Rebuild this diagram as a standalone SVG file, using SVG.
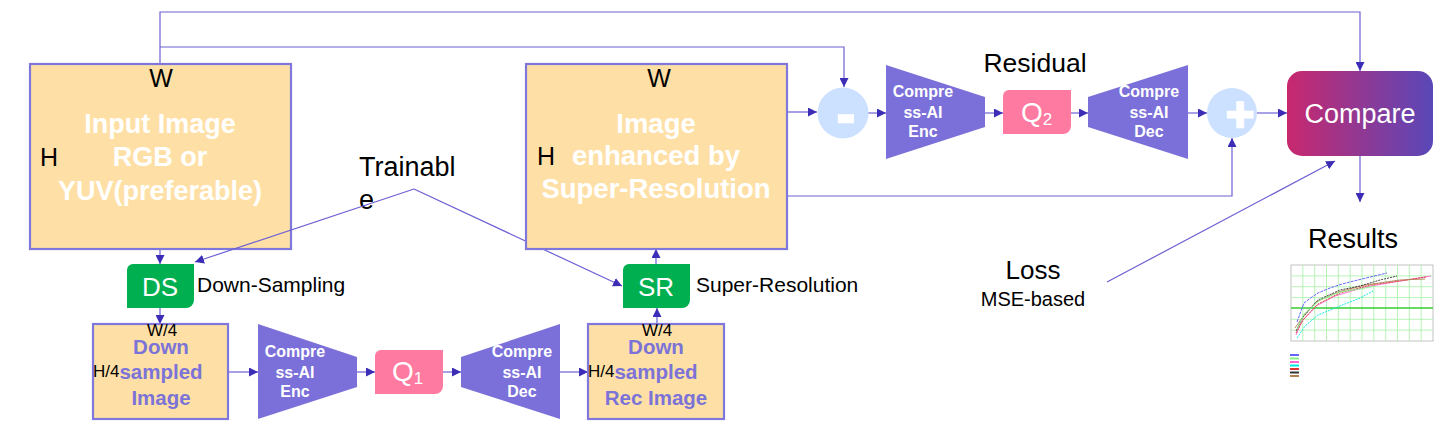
<svg xmlns="http://www.w3.org/2000/svg" width="1450" height="435" viewBox="0 0 1450 435">
<style>
.box{fill:#fee0a6;stroke:#7f77dc;stroke-width:2.2}
.trap{fill:#7b70d9}
.q{fill:#ff7aa0}
.grn{fill:#00b050}
.circ{fill:#cce0ff}
.conn{fill:none;stroke:#6c60d2;stroke-width:1.2}
.wb{font-family:"Liberation Sans",Arial,sans-serif;font-weight:bold;fill:#ffffff;text-anchor:middle}
.pb{font-family:"Liberation Sans",Arial,sans-serif;font-weight:bold;fill:#7b73d8;text-anchor:middle}
.bk{font-family:"Liberation Sans",Arial,sans-serif;fill:#000000}
.wn{font-family:"Liberation Sans",Arial,sans-serif;fill:#ffffff}
.grid{stroke:#a6f0a6;stroke-width:0.8}
</style>
<defs>
<marker id="arr" viewBox="0 0 10 10" refX="10" refY="5" markerWidth="9" markerHeight="9" markerUnits="userSpaceOnUse" orient="auto">
<path d="M0,0 L10,5 L0,10 Z" fill="#3b2db5"/>
</marker>
<linearGradient id="cmpg" x1="0" y1="0" x2="1" y2="0">
<stop offset="0" stop-color="#c8286e"/>
<stop offset="1" stop-color="#5a48b8"/>
</linearGradient>
</defs>

<g id="connectors">
<path class="conn" d="M160,64 V12 H1360 V71" marker-end="url(#arr)"/>
<path class="conn" d="M160,47 H844 V87" marker-end="url(#arr)"/>
<path class="conn" d="M160,249 V264" marker-end="url(#arr)"/>
<path class="conn" d="M160,308 V324" marker-end="url(#arr)"/>
<path class="conn" d="M228,372 H258" marker-end="url(#arr)"/>
<path class="conn" d="M357,372 H375" marker-end="url(#arr)"/>
<path class="conn" d="M443,372 H461" marker-end="url(#arr)"/>
<path class="conn" d="M560,372 H588" marker-end="url(#arr)"/>
<path class="conn" d="M657,324 V308" marker-end="url(#arr)"/>
<path class="conn" d="M656,264 V249" marker-end="url(#arr)"/>
<path class="conn" d="M787,112 H817" marker-end="url(#arr)"/>
<path class="conn" d="M868,113 H886" marker-end="url(#arr)"/>
<path class="conn" d="M985,113 H1003" marker-end="url(#arr)"/>
<path class="conn" d="M1071,113 H1088" marker-end="url(#arr)"/>
<path class="conn" d="M1188,113 H1207" marker-end="url(#arr)"/>
<path class="conn" d="M1257,113 H1287" marker-end="url(#arr)"/>
<path class="conn" d="M787,196 H1232 V138" marker-end="url(#arr)"/>
<path class="conn" d="M1107,282 L1335,161" marker-end="url(#arr)"/>
<path class="conn" d="M1360,156 V202" marker-end="url(#arr)"/>
</g>

<g id="input-image">
<rect class="box" x="30" y="64" width="261" height="185"/>
<text class="bk" x="161" y="87" font-size="25" text-anchor="middle">W</text>
<text class="bk" x="40" y="166" font-size="25">H</text>
<text class="wb" font-size="27"><tspan x="160" y="133">Input Image</tspan><tspan x="160" y="166">RGB or</tspan><tspan x="160" y="200">YUV(preferable)</tspan></text>
</g>

<g id="trainable-label">
<text class="bk" font-size="27"><tspan x="359" y="176">Trainabl</tspan><tspan x="359" y="209">e</tspan></text>
</g>

<g id="ds">
<path class="grn" d="M133,264 H194 V300 A8,8 0 0 1 186,308 H127 V270 A6,6 0 0 1 133,264 Z"/>
<text class="wn" x="160" y="296" font-size="26" text-anchor="middle">DS</text>
<text class="bk" x="197" y="292" font-size="21">Down-Sampling</text>
</g>

<g id="downsampled-image">
<rect class="box" x="93" y="324" width="135" height="95"/>
<text class="pb" font-size="20.5"><tspan x="161" y="354">Down</tspan><tspan x="161" y="379">sampled</tspan><tspan x="161" y="405">Image</tspan></text>
<text class="bk" x="162" y="336" font-size="17" text-anchor="middle">W/4</text>
<text class="bk" x="93" y="377" font-size="17">H/4</text>
</g>

<g id="trainable-links">
<path class="conn" d="M414,189 L195,262" marker-end="url(#arr)"/>
<path class="conn" d="M414,189 L622,286" marker-end="url(#arr)"/>
</g>

<g id="enc1">
<path class="trap" d="M258,324 L357,357 L357,387 L258,419 Z"/>
<text class="wb" font-size="16"><tspan x="295" y="357">Compre</tspan><tspan x="295" y="378">ss-AI</tspan><tspan x="295" y="397">Enc</tspan></text>
</g>

<g id="q1">
<path class="q" d="M381,350 H443 V386 A8,8 0 0 1 435,394 H375 V356 A6,6 0 0 1 381,350 Z"/>
<text class="wn" x="392" y="381" font-size="28">Q<tspan font-size="17" dy="3">1</tspan></text>
</g>

<g id="dec1">
<path class="trap" d="M461,357 L560,324 L560,419 L461,387 Z"/>
<text class="wb" font-size="16"><tspan x="522" y="357">Compre</tspan><tspan x="522" y="378">ss-AI</tspan><tspan x="522" y="397">Dec</tspan></text>
</g>

<g id="rec-image">
<rect class="box" x="588" y="324" width="136" height="95"/>
<text class="pb" font-size="20.5"><tspan x="656" y="354">Down</tspan><tspan x="656" y="379">sampled</tspan><tspan x="656" y="405">Rec Image</tspan></text>
<text class="bk" x="657" y="336" font-size="17" text-anchor="middle">W/4</text>
<text class="bk" x="588" y="377" font-size="17">H/4</text>
</g>

<g id="sr">
<path class="grn" d="M629,264 H690 V300 A8,8 0 0 1 682,308 H623 V270 A6,6 0 0 1 629,264 Z"/>
<text class="wn" x="656" y="296" font-size="26" text-anchor="middle">SR</text>
<text class="bk" x="696" y="292" font-size="21">Super-Resolution</text>
</g>

<g id="enhanced-image">
<rect class="box" x="526" y="64" width="261" height="185"/>
<text class="bk" x="659" y="87" font-size="25" text-anchor="middle">W</text>
<text class="bk" x="537" y="165" font-size="25">H</text>
<text class="wb" font-size="27.5"><tspan x="656" y="133">Image</tspan><tspan x="656" y="165">enhanced by</tspan><tspan x="656" y="198">Super-Resolution</tspan></text>
</g>

<g id="minus">
<circle class="circ" cx="843" cy="113" r="25.5"/>
<text class="wn" x="846" y="133" font-size="54" font-weight="bold" text-anchor="middle" stroke="#ffffff" stroke-width="2.5">-</text>
</g>

<g id="enc2">
<path class="trap" d="M886,65 L985,97 L985,127 L886,159 Z"/>
<text class="wb" font-size="16"><tspan x="923" y="97">Compre</tspan><tspan x="923" y="118">ss-AI</tspan><tspan x="923" y="137">Enc</tspan></text>
</g>

<g id="residual-label">
<text class="bk" x="1035" y="72" font-size="26.5" text-anchor="middle">Residual</text>
</g>

<g id="q2">
<path class="q" d="M1009,90 H1071 V126 A8,8 0 0 1 1063,134 H1003 V96 A6,6 0 0 1 1009,90 Z"/>
<text class="wn" x="1021" y="122" font-size="28">Q<tspan font-size="17" dy="3">2</tspan></text>
</g>

<g id="dec2">
<path class="trap" d="M1088,97 L1188,65 L1188,159 L1088,127 Z"/>
<text class="wb" font-size="16"><tspan x="1149" y="97">Compre</tspan><tspan x="1149" y="118">ss-AI</tspan><tspan x="1149" y="137">Dec</tspan></text>
</g>

<g id="plus">
<circle class="circ" cx="1232" cy="113" r="25"/>
<text class="wn" x="1240" y="131" font-size="48" font-weight="bold" text-anchor="middle" stroke="#ffffff" stroke-width="2.5">+</text>
</g>

<g id="compare">
<rect x="1287" y="71" width="146" height="85" rx="15" fill="url(#cmpg)"/>
<text class="wn" x="1360" y="123" font-size="27" text-anchor="middle">Compare</text>
</g>

<g id="loss">
<text class="bk" x="1033" y="279" font-size="26" text-anchor="middle">Loss</text>
<text class="bk" x="1033" y="306" font-size="20" text-anchor="middle">MSE-based</text>
</g>

<g id="results">
<text class="bk" x="1353" y="248" font-size="27" text-anchor="middle">Results</text>
<rect x="1291" y="265" width="142" height="76" fill="#ffffff" stroke="#999999" stroke-width="0.6"/>
<g class="grid">
<line x1="1302.8" y1="265" x2="1302.8" y2="341"/>
<line x1="1314.7" y1="265" x2="1314.7" y2="341"/>
<line x1="1326.5" y1="265" x2="1326.5" y2="341"/>
<line x1="1338.3" y1="265" x2="1338.3" y2="341"/>
<line x1="1350.2" y1="265" x2="1350.2" y2="341"/>
<line x1="1362" y1="265" x2="1362" y2="341"/>
<line x1="1373.8" y1="265" x2="1373.8" y2="341"/>
<line x1="1385.7" y1="265" x2="1385.7" y2="341"/>
<line x1="1397.5" y1="265" x2="1397.5" y2="341"/>
<line x1="1409.3" y1="265" x2="1409.3" y2="341"/>
<line x1="1421.2" y1="265" x2="1421.2" y2="341"/>
<line x1="1291" y1="275.9" x2="1433" y2="275.9"/>
<line x1="1291" y1="286.7" x2="1433" y2="286.7"/>
<line x1="1291" y1="297.6" x2="1433" y2="297.6"/>
<line x1="1291" y1="319.3" x2="1433" y2="319.3"/>
<line x1="1291" y1="330.1" x2="1433" y2="330.1"/>
</g>
<line x1="1291" y1="308" x2="1433" y2="308" stroke="#33cc33" stroke-width="1.4"/>
<polyline fill="none" stroke="#00e5e5" stroke-width="0.9" stroke-dasharray="2,1" points="1297,338 1305,326 1318,315 1340,306 1360,298 1373,291"/>
<polyline fill="none" stroke="#ff66cc" stroke-width="0.9" points="1296,335 1302,321 1316,306 1335,296 1365,287 1400,281 1431,276"/>
<polyline fill="none" stroke="#dd3333" stroke-width="0.9" stroke-dasharray="2,1" points="1296,333 1303,320 1318,304 1340,293 1370,285 1400,281 1426,277"/>
<polyline fill="none" stroke="#b08050" stroke-width="0.9" points="1295,328 1302,318 1316,302 1338,292 1365,285 1400,280 1425,279"/>
<polyline fill="none" stroke="#333333" stroke-width="0.9" stroke-dasharray="2,1" points="1296,331 1303,317 1318,300 1340,290 1360,286 1380,280 1397,276"/>
<polyline fill="none" stroke="#88ee88" stroke-width="0.9" points="1297,329 1304,314 1320,300 1340,292 1360,289 1375,286"/>
<polyline fill="none" stroke="#6666ff" stroke-width="1" stroke-dasharray="3,1" points="1297,322 1301,311 1304,303 1312,297 1318,293 1330,288 1342,284 1362,279 1387,273"/>
<g stroke-width="2">
<line x1="1290" y1="355" x2="1299" y2="355" stroke="#6666ff"/>
<line x1="1290" y1="358.5" x2="1299" y2="358.5" stroke="#88ee88"/>
<line x1="1290" y1="362" x2="1299" y2="362" stroke="#ff66cc"/>
<line x1="1290" y1="365.5" x2="1299" y2="365.5" stroke="#00e5e5"/>
<line x1="1290" y1="369" x2="1299" y2="369" stroke="#dd3333"/>
<line x1="1290" y1="372.5" x2="1299" y2="372.5" stroke="#333333"/>
<line x1="1290" y1="376" x2="1299" y2="376" stroke="#b08050"/>
</g>
</g>
</svg>
